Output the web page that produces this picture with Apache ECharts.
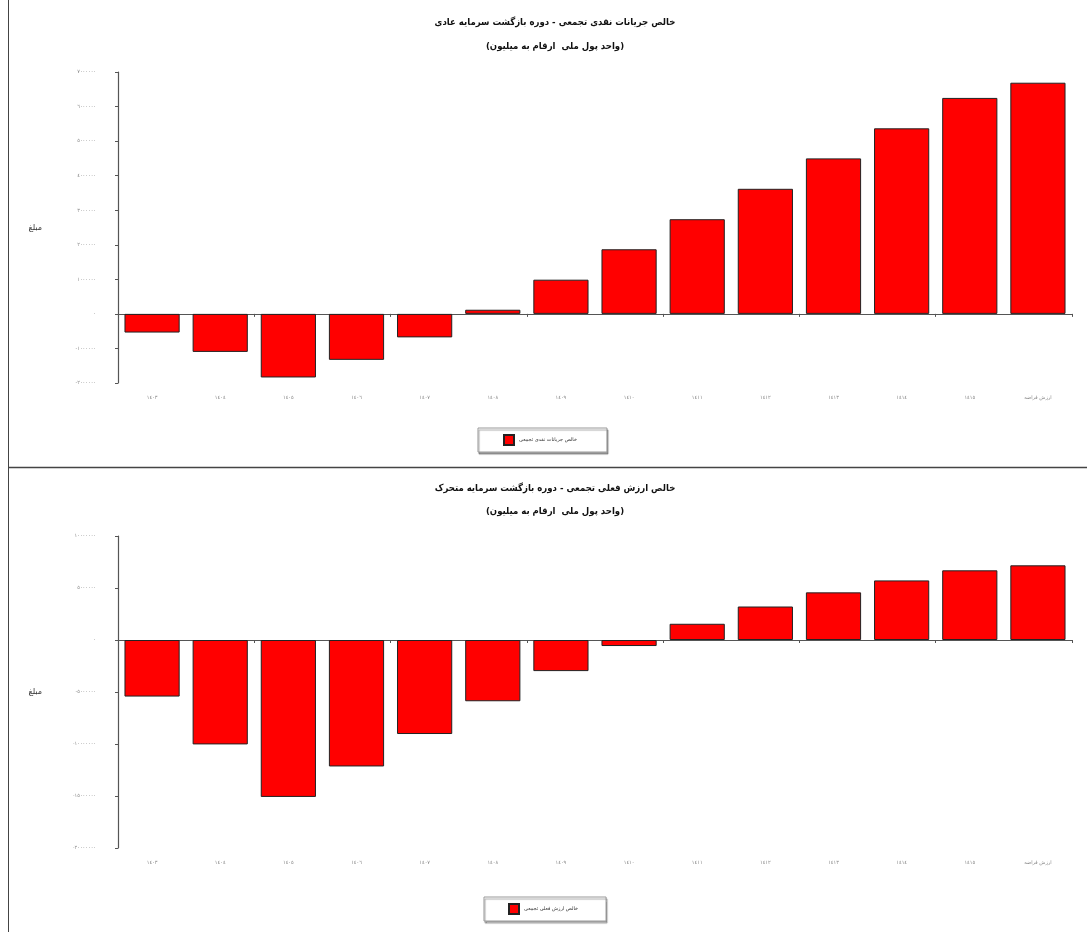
<!DOCTYPE html>
<html>
<head>
<meta charset="utf-8">
<script src="https://cdn.jsdelivr.net/npm/echarts@6/dist/echarts.min.js"></script>
<style>
  html, body { margin: 0; padding: 0; background: #fff; }
  #main { width: 1087px; height: 932px; }
</style>
</head>
<body>
<div id="main"></div>
<script>
'use strict';
// سال ها
var categories = ['1403', '1404', '1405', '1406', '1407', '1408', '1409',
                  '1410', '1411', '1412', '1413', '1414', '1415', 'ارزش قراضه'];

// خالص جریانات نقدی تجمعی (بالا)
var cashFlowCum = [-540000, -1100000, -1840000, -1330000, -680000, 120000, 990000,
                   1870000, 2740000, 3620000, 4500000, 5370000, 6250000, 6690000];

// خالص ارزش فعلی تجمعی (پایین)
var npvCum = [-5440000, -10040000, -15090000, -12160000, -9040000, -5890000, -2990000,
              -580000, 1560000, 3220000, 4580000, 5730000, 6700000, 7180000];

var topTicks = { min: -2000000, max: 7000000, interval: 1000000 };
var bottomTicks = { min: -20000000, max: 10000000, interval: 5000000 };

var titleTop = 'خالص جریانات نقدی تجمعی - دوره بازگشت سرمایه عادی';
var titleBottom = 'خالص ارزش فعلی تجمعی - دوره بازگشت سرمایه متحرک';
var subTitle = '(واحد پول ملی  ارقام به میلیون)';
var legendTop = 'خالص جریانات نقدی تجمعی';
var legendBottom = 'خالص ارزش فعلی تجمعی';
var yName = 'مبلغ';

// ارقام عربی-هندی
function toFa(v) {
    return String(v).replace(/\d/g, function (d) { return '٠١٢٣٤٥٦٧٨٩'[d]; });
}

var FONT = 'DejaVu Sans';
var TITLE_FONT = 'DejaVu Sans Condensed';
var axisColor = '#555';

function yAxisOf(grid, ticks) {
    return {
        type: 'value', gridIndex: grid,
        min: ticks.min, max: ticks.max, interval: ticks.interval,
        name: yName, nameLocation: 'middle', nameGap: 76, nameRotate: 0,
        nameTextStyle: { fontFamily: FONT, fontSize: 8, color: '#333', padding: [14, 0, 0, 0] },
        axisLine: { show: true, lineStyle: { color: axisColor, width: 1.2 } },
        axisTick: { show: true, length: 3, lineStyle: { color: axisColor } },
        axisLabel: { margin: 22, fontFamily: FONT, fontSize: 5, color: '#888',
                     formatter: function (v) { return toFa(v); } },
        splitLine: { show: false }
    };
}

function xAxesOf(grid) {
    return [{
        type: 'category', gridIndex: grid, data: categories,
        axisLine: { onZero: true, lineStyle: { color: axisColor, width: 1.2 } },
        axisTick: { show: true, length: 3, lineStyle: { color: axisColor } },
        axisLabel: { show: false }
    }, {
        type: 'category', gridIndex: grid, data: categories, position: 'bottom',
        axisLine: { show: false, onZero: false }, axisTick: { show: false },
        axisLabel: { margin: 12, fontFamily: FONT, fontSize: 5, color: '#888',
                     interval: 0, formatter: function (v) { return toFa(v); } }
    }];
}

var barStyle = { color: '#ff0000', borderColor: '#222', borderWidth: 1 };

var legendBox = {
    orient: 'horizontal', itemWidth: 10, itemHeight: 10, itemGap: 5,
    borderColor: '#999', borderWidth: 1,
    shadowColor: 'rgba(0,0,0,0.35)', shadowOffsetX: 1, shadowOffsetY: 2, shadowBlur: 1,
    backgroundColor: '#fff',
    textStyle: { fontFamily: FONT, fontSize: 5, color: '#333' },
    icon: 'rect'
};

function titleOf(text, top) {
    return { text: text, left: 550, top: top, textAlign: 'center',
             textStyle: { fontFamily: TITLE_FONT, fontSize: 9.5, fontWeight: 'bold', color: '#111' } };
}

var myChart = echarts.init(document.getElementById('main'));
var option = {
    backgroundColor: '#fff',
    animation: false,
    title: [
        titleOf(titleTop, 13),
        titleOf(subTitle, 37),
        titleOf(titleBottom, 479),
        titleOf(subTitle, 502)
    ],
    legend: [
        Object.assign({}, legendBox, { data: [legendTop], left: 478, top: 428,
                                       padding: [6, 30, 6, 25] }),
        Object.assign({}, legendBox, { data: [legendBottom], left: 484, top: 897,
                                       padding: [6, 28, 6, 24] })
    ],
    grid: [
        { left: 118, right: 15, top: 72, height: 311, containLabel: false },
        { left: 118, right: 15, top: 536, height: 312, containLabel: false }
    ],
    xAxis: xAxesOf(0).concat(xAxesOf(1)),
    yAxis: [yAxisOf(0, topTicks), yAxisOf(1, bottomTicks)],
    series: [
        { name: legendTop, type: 'bar', xAxisIndex: 0, yAxisIndex: 0,
          data: cashFlowCum, barCategoryGap: '19%', itemStyle: barStyle },
        { name: legendBottom, type: 'bar', xAxisIndex: 2, yAxisIndex: 1,
          data: npvCum, barCategoryGap: '19%', itemStyle: barStyle }
    ],
    graphic: [
        // کادر صفحه
        { type: 'line', shape: { x1: 8.5, y1: 0, x2: 8.5, y2: 467 },
          style: { stroke: '#444', lineWidth: 1 } },
        { type: 'line', shape: { x1: 8, y1: 467.5, x2: 1087, y2: 467.5 },
          style: { stroke: '#444', lineWidth: 1.5 } },
        { type: 'line', shape: { x1: 8.5, y1: 467, x2: 8.5, y2: 932 },
          style: { stroke: '#444', lineWidth: 1 } }
    ]
};
myChart.setOption(option);
</script>
</body>
</html>
